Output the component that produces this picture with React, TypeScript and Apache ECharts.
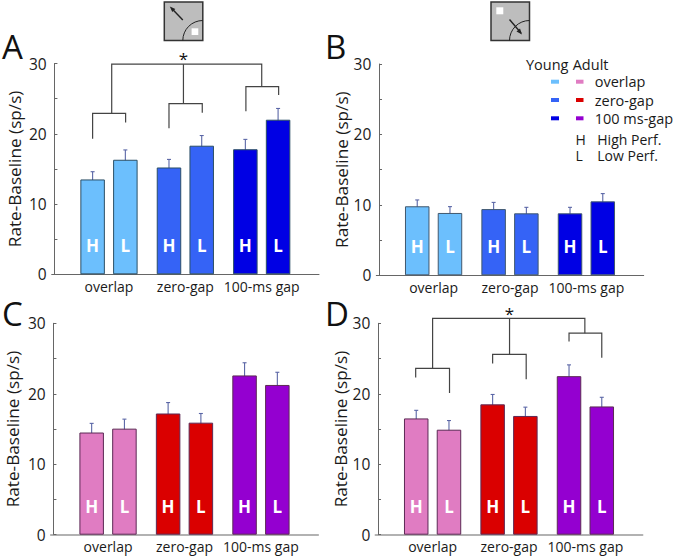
import React, { useEffect, useRef } from "react";
import * as echarts from "echarts";

const FONT = '"Open Sans", "Noto Sans", sans-serif';
const TEXT = "#1a1a1a";

const SLOT_COUNT = 49;
const barSlots = [7, 13, 21, 27, 35, 41];
const groupSlots = [10, 24, 38];
const groupNames = ["overlap", "zero-gap", "100-ms gap"];
const perfLabels = ["H", "L", "H", "L", "H", "L"];
const yTicks = [0, 10, 20, 30];

const youngColors = ["#6cbffd", "#6cbffd", "#3563f6", "#3563f6", "#0000e4", "#0000e4"];
const adultColors = ["#e07cc2", "#e07cc2", "#da0000", "#da0000", "#9400d0", "#9400d0"];

const valuesA = [13.5, 16.3, 15.2, 18.3, 17.8, 22.0];
const highA = [14.6, 17.7, 16.35, 19.75, 19.2, 23.6];
const lowA = [12.4, 14.9, 14.0, 16.9, 16.4, 20.5];

const valuesB = [9.8, 8.85, 9.4, 8.8, 8.8, 10.5];
const highB = [10.7, 9.75, 10.35, 9.65, 9.65, 11.6];
const lowB = [8.8, 7.95, 8.5, 7.95, 7.95, 9.4];

const valuesC = [14.5, 15.05, 17.2, 15.9, 22.6, 21.25];
const highC = [15.8, 16.4, 18.75, 17.2, 24.4, 23.05];
const lowC = [13.2, 13.7, 15.6, 14.4, 20.9, 19.3];

const valuesD = [16.5, 14.9, 18.5, 16.85, 22.5, 18.2];
const highD = [17.65, 16.2, 19.9, 18.1, 24.1, 19.5];
const lowD = [15.3, 13.6, 17.0, 15.5, 20.9, 16.9];

type Pt = [number, number];

const bracketsA: Pt[][] = [
  [[7, 19.3], [7, 22.9], [13.05, 22.9], [13.05, 21.6]],
  [[21, 20.8], [21, 24.3], [27.1, 24.3], [27.1, 23.0]],
  [[35.1, 23.2], [35.1, 26.7], [41.1, 26.7], [41.1, 25.5]],
  [[10.5, 22.9], [10.5, 29.9], [38, 29.9], [38, 26.7]],
  [[23.65, 29.9], [23.65, 24.3]],
];
const bracketsD: Pt[][] = [
  [[6.9, 22.3], [6.9, 23.6], [13.1, 23.6], [13.1, 20.1]],
  [[21, 24.3], [21, 25.6], [27.15, 25.6], [27.15, 22.05]],
  [[35, 27.4], [35, 28.6], [41, 28.6], [41, 25.1]],
  [[10, 23.6], [10, 30.7], [37.9, 30.7], [37.9, 28.6]],
  [[24.1, 30.7], [24.1, 25.6]],
];
const starA: Pt = [23.65, 30.7];
const starD: Pt = [24.1, 31.4];

const panels = [
  { letter: "A", lx: 2, ly: 63, left: 51.7, top: 63.5, bottom: 274.3, right: 319, nameGap: 29, values: valuesA, high: highA, low: lowA, colors: youngColors, border: "#2b4f66", brackets: bracketsA, star: starA, axisColor: "#666" },
  { letter: "B", lx: 325, ly: 63, left: 376.3, top: 64, bottom: 275.3, right: 643.7, nameGap: 24, values: valuesB, high: highB, low: lowB, colors: youngColors, border: "#40586e", brackets: [] as Pt[][], star: null, axisColor: "#666" },
  { letter: "C", lx: 2, ly: 330, left: 50.7, top: 323.3, bottom: 534.7, right: 318.3, nameGap: 30, values: valuesC, high: highC, low: lowC, colors: adultColors, border: "#5c2a55", brackets: [] as Pt[][], star: null, axisColor: "#999" },
  { letter: "D", lx: 325, ly: 330, left: 375.3, top: 323.3, bottom: 534.7, right: 642.7, nameGap: 25, values: valuesD, high: highD, low: lowD, colors: adultColors, border: "#5c2a55", brackets: bracketsD, star: starD, axisColor: "#999" },
];

const legendHeaders = ["Young", "Adult"];
const legendRows = ["overlap", "zero-gap", "100 ms-gap"];
const legendYoung = ["#6cbffd", "#3563f6", "#0000e4"];
const legendAdult = ["#e07cc2", "#da0000", "#9400d0"];
const keyLetters = ["H", "L"];
const keyTexts = ["High Perf.", "Low Perf."];

const categories = Array.from({ length: SLOT_COUNT }, (_, i) => {
  const g = groupSlots.indexOf(i);
  return g >= 0 ? groupNames[g] : "";
});

function icon(x: number, y: number, flip: boolean) {
  const size = 38.5;
  const children: any[] = [
    { type: "rect", shape: { x, y, width: size, height: size }, style: { fill: "#bdbdbd", stroke: "#333", lineWidth: 1.5 } },
    { type: "arc", shape: { cx: x + size, cy: y + size, r: 20, startAngle: Math.PI, endAngle: Math.PI * 1.5 }, style: { stroke: "#222", lineWidth: 1, fill: "none" } },
  ];
  if (!flip) {
    children.push(
      { type: "rect", shape: { x: x + 27.3, y: y + 26.3, width: 6.7, height: 6.7 }, style: { fill: "#fff" } },
      { type: "line", shape: { x1: x + 18.5, y1: y + 18, x2: x + 7, y2: y + 6 }, style: { stroke: "#222", lineWidth: 1.4 } },
      { type: "polygon", shape: { points: [[x + 5.5, y + 4.5], [x + 11, y + 7], [x + 8, y + 10]] }, style: { fill: "#222" } },
    );
  } else {
    children.push(
      { type: "rect", shape: { x: x + 5.3, y: y + 5.3, width: 7, height: 7 }, style: { fill: "#fff" } },
      { type: "line", shape: { x1: x + 18.5, y1: y + 17.5, x2: x + 30, y2: y + 31 }, style: { stroke: "#222", lineWidth: 1.4 } },
      { type: "polygon", shape: { points: [[x + 31, y + 32.5], [x + 25.5, y + 29.5], [x + 29, y + 26.5]] }, style: { fill: "#222" } },
    );
  }
  return { type: "group", children };
}

function txt(x: number, y: number, text: string, fontSize: number) {
  return { type: "text", x, y, style: { text, fontSize, lineHeight: 14, fontFamily: FONT, fill: TEXT, verticalAlign: "middle" } };
}

export default function App() {
  const ref = useRef<HTMLDivElement>(null);
  useEffect(() => {
    if (!ref.current) return;
    const chart = echarts.init(ref.current, undefined, { renderer: "svg" });

    const grid: any[] = [];
    const xAxis: any[] = [];
    const yAxis: any[] = [];
    const series: any[] = [];
    const graphic: any[] = [icon(164.3, 2, false), icon(491, 2, true)];

    panels.forEach((p, i) => {
      grid.push({ left: p.left, top: p.top, width: p.right - p.left, height: p.bottom - p.top, containLabel: false });
      xAxis.push({
        type: "category",
        gridIndex: i,
        data: categories,
        axisTick: { show: false },
        axisLine: { lineStyle: { color: p.axisColor, width: i >= 2 ? 1.5 : 1 } },
        axisLabel: { interval: 0, margin: 5, fontSize: 14, fontFamily: FONT, color: TEXT, hideOverlap: false },
      });
      xAxis.push({ type: "value", gridIndex: i, min: -0.5, max: SLOT_COUNT - 0.5, show: false });
      yAxis.push({
        type: "value",
        gridIndex: i,
        min: 0,
        max: 30,
        interval: 5,
        name: "Rate-Baseline (sp/s)",
        nameLocation: "middle",
        nameGap: p.nameGap,
        nameTextStyle: { fontSize: 17.2, fontFamily: FONT, color: TEXT },
        splitLine: { show: false },
        axisLine: { show: true, lineStyle: { color: "#666" } },
        axisTick: { show: true, inside: true, length: 3, lineStyle: { color: "#666" } },
        axisLabel: {
          margin: 5,
          fontSize: 15.5,
          fontFamily: FONT,
          color: TEXT,
          formatter: (v: number) => (yTicks.includes(v) ? String(v) : ""),
        },
      });

      const barData: any[] = new Array(SLOT_COUNT).fill(null);
      barSlots.forEach((slot, k) => {
        barData[slot] = {
          value: p.values[k],
          itemStyle: { color: p.colors[k], borderColor: p.border, borderWidth: 1 },
          label: { formatter: perfLabels[k] },
        };
      });
      series.push({
        type: "bar",
        xAxisIndex: i * 2,
        yAxisIndex: i,
        barWidth: 24.5,
        data: barData,
        label: { show: true, position: "insideBottom", distance: 20, color: "#fff", fontSize: 17, fontWeight: "bold", fontFamily: FONT },
      });

      series.push({
        type: "custom",
        xAxisIndex: i * 2 + 1,
        yAxisIndex: i,
        data: barSlots.map((s, k) => [s, p.low[k], p.high[k]]),
        renderItem: (_: any, api: any) => {
          const lo = api.coord([api.value(0), api.value(1)]);
          const hi = api.coord([api.value(0), api.value(2)]);
          const style = { stroke: "#5a66a6", lineWidth: 1.1 };
          return {
            type: "group",
            children: [
              { type: "line", shape: { x1: lo[0], y1: lo[1], x2: hi[0], y2: hi[1] }, style },
              { type: "line", shape: { x1: lo[0] - 2, y1: lo[1], x2: lo[0] + 2, y2: lo[1] }, style },
              { type: "line", shape: { x1: hi[0] - 2, y1: hi[1], x2: hi[0] + 2, y2: hi[1] }, style },
            ],
          };
        },
      });

      if (p.brackets.length) {
        const brackets = p.brackets;
        series.push({
          type: "custom",
          xAxisIndex: i * 2 + 1,
          yAxisIndex: i,
          clip: false,
          data: brackets.map((b) => [b[0][0], b[0][1]]),
          renderItem: (params: any, api: any) => ({
            type: "polyline",
            shape: { points: brackets[params.dataIndex].map((pt) => api.coord(pt)) },
            style: { stroke: "#444", lineWidth: 1.2, fill: "none" },
          }),
        });
      }
      if (p.star) {
        const star = p.star;
        series.push({
          type: "custom",
          xAxisIndex: i * 2 + 1,
          yAxisIndex: i,
          clip: false,
          data: [star],
          renderItem: (_: any, api: any) => {
            const c = api.coord([api.value(0), api.value(1)]);
            return {
              type: "text",
              x: c[0],
              y: c[1],
              style: { text: "*", fontSize: 17, fontFamily: FONT, fill: "#111", align: "center", verticalAlign: "middle" },
            };
          },
        });
      }
      graphic.push({
        type: "text",
        x: p.lx,
        y: p.ly,
        style: { text: p.letter, fontSize: 33, fontFamily: FONT, fill: "#111", verticalAlign: "bottom" },
      });
    });

    // legend
    graphic.push(txt(526, 64.5, legendHeaders[0], 14.5));
    graphic.push(txt(572.7, 64.5, legendHeaders[1], 14.5));
    legendRows.forEach((r, i) => {
      const y = 81.7 + i * 18.3;
      graphic.push({ type: "rect", shape: { x: 551, y: y - 2, width: 8, height: 4 }, style: { fill: legendYoung[i] } });
      graphic.push({ type: "rect", shape: { x: 576, y: y - 2, width: 7.5, height: 4 }, style: { fill: legendAdult[i] } });
      graphic.push(txt(594.7, y, r, 14.5));
    });
    keyLetters.forEach((k, i) => {
      const y = 139.5 + i * 16;
      graphic.push(txt(575.5, y, k, 14));
      graphic.push(txt(597.3, y, keyTexts[i], 14));
    });

    chart.setOption({
      animation: false,
      backgroundColor: "#fff",
      grid,
      xAxis,
      yAxis,
      series,
      graphic: { elements: graphic },
    });
    return () => chart.dispose();
  }, []);
  return <div ref={ref} style={{ position: "fixed", left: 0, top: 0, width: 674, height: 556 }} />;
}
